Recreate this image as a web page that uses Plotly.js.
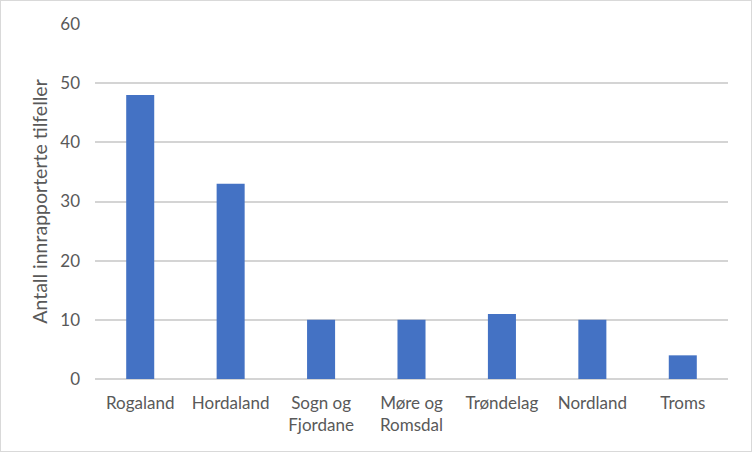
<!DOCTYPE html>
<html>
<head>
<meta charset="utf-8">
<script src="https://cdn.plot.ly/plotly-3.0.1.min.js"></script>
<style>
  body { margin: 0; background: #fff; }
  #chart { width: 750px; height: 450px; border: 1px solid #d9d9d9; }
</style>
</head>
<body>
<div id="chart"></div>
<script>
// fylker og antall innrapporterte tilfeller
var regions = ["Rogaland", "Hordaland", "Sogn og<br>Fjordane", "Møre og<br>Romsdal", "Trøndelag", "Nordland", "Troms"];
var cases = [48, 33, 10, 10, 11, 10, 4];
var yTicks = [0, 10, 20, 30, 40, 50, 60];

var data = [
    {
        type: "bar",
        x: regions,
        y: cases,
        width: 0.31,
        marker: { color: "#4472C4" },
        hoverinfo: "x+y"
    }
];

var layout = {
    width: 750,
    height: 450,
    margin: { l: 94, r: 23, t: 23, b: 72 },
    paper_bgcolor: "#fff",
    plot_bgcolor: "#fff",
    font: { family: "Lato, 'Open Sans', sans-serif", size: 17, color: "#595959" },
    showlegend: false,
    xaxis: {
        type: "category",
        showgrid: false,
        showline: false,
        ticks: "",
        ticklabelstandoff: 12,
        tickfont: { size: 17, color: "#595959" }
    },
    yaxis: {
        range: [0, 60],
        tickvals: yTicks,
        ticktext: yTicks.map(String),
        gridcolor: "#d4d4d4",
        gridwidth: 1.5,
        zeroline: true,
        zerolinecolor: "#d4d4d4",
        zerolinewidth: 1.5,
        showline: false,
        ticks: "",
        ticklabelstandoff: 14,
        tickfont: { size: 17, color: "#595959" },
        title: {
            text: "Antall innrapporterte tilfeller",
            font: { size: 19.5, color: "#595959" },
            standoff: 7
        }
    }
};

Plotly.newPlot(document.getElementById("chart"), data, layout, { displayModeBar: false });
</script>
</body>
</html>
